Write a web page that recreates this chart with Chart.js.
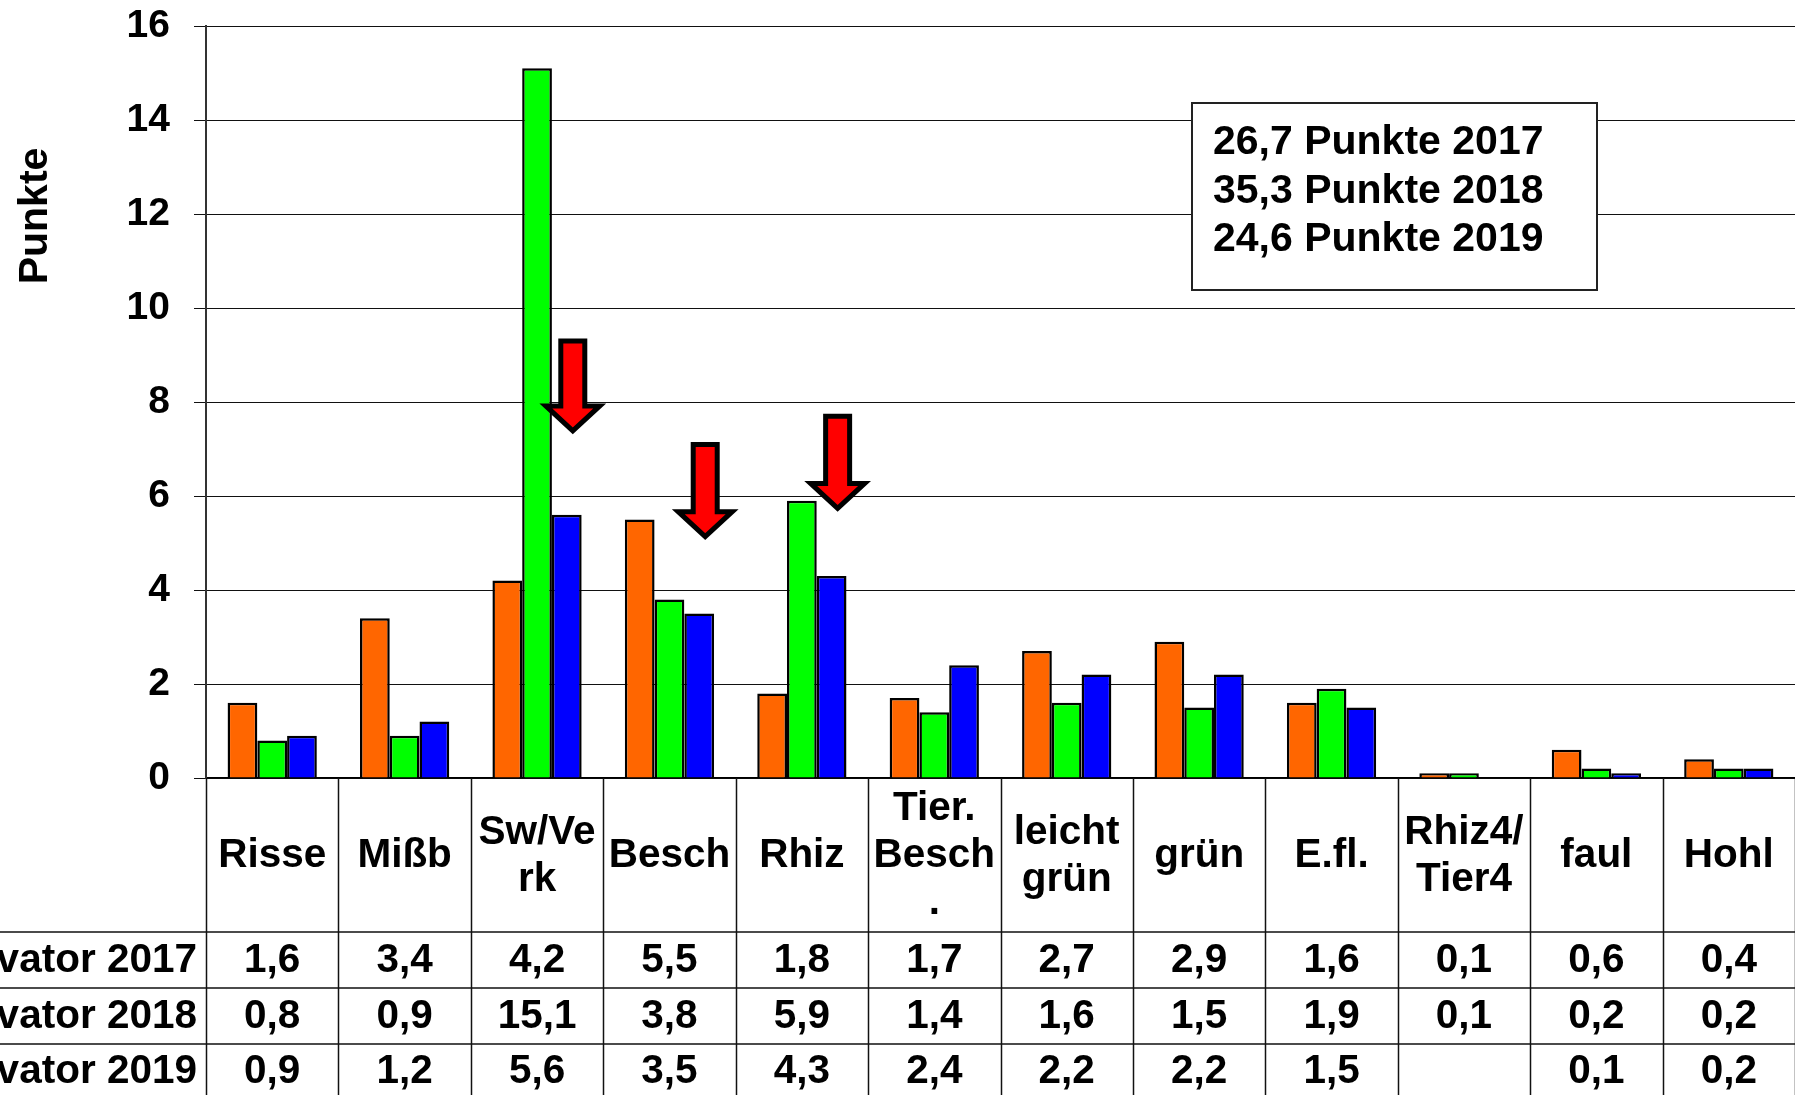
<!DOCTYPE html>
<html>
<head>
<meta charset="utf-8">
<script src="https://cdn.jsdelivr.net/npm/chart.js@4.4.1/dist/chart.umd.min.js"></script>
<style>
  body { margin: 0; background: #fff; }
  #wrap { width: 1795px; height: 1095px; }
</style>
</head>
<body>
<div id="wrap"><canvas id="myChart" width="1795" height="1095"></canvas></div>
<script>
// categories (label lines as in the table header)
const categories = [['Risse'], ['Mißb'], ['Sw/Ve', 'rk'], ['Besch'], ['Rhiz'], ['Tier.', 'Besch', '.'],
    ['leicht', 'grün'], ['grün'], ['E.fl.'], ['Rhiz4/', 'Tier4'], ['faul'], ['Hohl']];
const seriesLabels = ['Kultivator 2017', 'Kultivator 2018', 'Kultivator 2019'];
const values2017 = [1.6, 3.4, 4.2, 5.5, 1.8, 1.7, 2.7, 2.9, 1.6, 0.1, 0.6, 0.4];
const values2018 = [0.8, 0.9, 15.1, 3.8, 5.9, 1.4, 1.6, 1.5, 1.9, 0.1, 0.2, 0.2];
const values2019 = [0.9, 1.2, 5.6, 3.5, 4.3, 2.4, 2.2, 2.2, 1.5, null, 0.1, 0.2];
const seriesColors = ['#ff6600', '#00ff00', '#0000ff'];
const totals = [26.7, 35.3, 24.6];
const totalYears = ['2017', '2018', '2019'];
// red arrows: category index, top and tip (in Punkte)
const arrowCats = [2, 3, 4];
const arrowTop = [9.35, 7.15, 7.75];
const arrowTip = [7.3, 5.05, 5.65];

const FONT = 'Liberation Sans, Arial, sans-serif';

function fmt(v) {
    return (v === null || v === undefined) ? '' : v.toFixed(1).replace('.', ',');
}

// draws the data table, the axis title, the totals box and the arrows
const extras = {
    id: 'extras',
    afterDraw(chart) {
        const ctx = chart.ctx;
        const x = chart.scales.x;
        const y = chart.scales.y;
        const area = chart.chartArea;
        const colW = x.width / categories.length;
        const rowTop = [932, 988, 1044];
        const H = chart.height, W = chart.width;

        ctx.save();
        // table grid
        ctx.strokeStyle = '#111';
        ctx.lineWidth = 1.5;
        ctx.beginPath();
        for (let i = 0; i <= categories.length; i++) {
            const bx = Math.round(area.left + i * colW) + 0.5;
            ctx.moveTo(bx, area.bottom);
            ctx.lineTo(bx, H);
        }
        rowTop.forEach(function (ry) {
            ctx.moveTo(0, ry);
            ctx.lineTo(W, ry);
        });
        ctx.stroke();

        // category labels
        ctx.fillStyle = '#000';
        ctx.font = 'bold 40.5px ' + FONT;
        ctx.textAlign = 'center';
        ctx.textBaseline = 'alphabetic';
        categories.forEach(function (lines, i) {
            const cx = x.getPixelForValue(i);
            lines.forEach(function (line, j) {
                ctx.fillText(line, cx, 867 + (j - (lines.length - 1) / 2) * 47);
            });
        });

        // values + row labels
        const rows = [values2017, values2018, values2019];
        const baselines = [972, 1028, 1083];
        rows.forEach(function (vals, r) {
            ctx.textAlign = 'right';
            ctx.fillText(seriesLabels[r], 197, baselines[r]);
            ctx.textAlign = 'center';
            vals.forEach(function (v, i) {
                ctx.fillText(fmt(v), x.getPixelForValue(i), baselines[r]);
            });
        });

        // axis title
        ctx.save();
        ctx.font = 'bold 41px ' + FONT;
        ctx.translate(47, 216);
        ctx.rotate(-Math.PI / 2);
        ctx.textAlign = 'center';
        ctx.fillText('Punkte', 0, 0);
        ctx.restore();

        // totals box
        ctx.fillStyle = '#fff';
        ctx.fillRect(1192, 103, 405, 187);
        ctx.strokeStyle = '#222';
        ctx.lineWidth = 2;
        ctx.strokeRect(1192, 103, 405, 187);
        ctx.fillStyle = '#000';
        ctx.font = 'bold 41px ' + FONT;
        ctx.textAlign = 'left';
        totals.forEach(function (t, i) {
            ctx.fillText(fmt(t) + ' Punkte ' + totalYears[i], 1213, 154 + i * 48.5);
        });

        // arrows
        arrowCats.forEach(function (c, i) {
            const ax = x.getPixelForValue(c) + colW * 0.27;
            const top = y.getPixelForValue(arrowTop[i]) + 2.5;
            const tip = y.getPixelForValue(arrowTip[i]) - 4;
            const head = tip + 4 - 29;
            ctx.beginPath();
            ctx.moveTo(ax - 12, top);
            ctx.lineTo(ax + 12, top);
            ctx.lineTo(ax + 12, head);
            ctx.lineTo(ax + 27, head);
            ctx.lineTo(ax, tip);
            ctx.lineTo(ax - 27, head);
            ctx.lineTo(ax - 12, head);
            ctx.closePath();
            ctx.fillStyle = '#ff0000';
            ctx.fill();
            ctx.lineWidth = 5;
            ctx.lineJoin = 'miter';
            ctx.strokeStyle = '#000';
            ctx.stroke();
        });
        ctx.restore();
    }
};

const ctx = document.getElementById('myChart');
new Chart(ctx, {
    type: 'bar',
    data: {
        labels: categories.map(function (l) { return l.join(' '); }),
        datasets: [values2017, values2018, values2019].map(function (vals, i) {
            return {
                label: seriesLabels[i],
                data: vals,
                backgroundColor: seriesColors[i],
                borderColor: '#000',
                borderWidth: 2.5,
                categoryPercentage: 0.674,
                barPercentage: 1
            };
        })
    },
    options: {
        responsive: false,
        animation: false,
        layout: { padding: { top: 26, right: 0, bottom: 0, left: 0 } },
        plugins: {
            legend: { display: false },
            tooltip: { enabled: false }
        },
        scales: {
            x: {
                ticks: { display: false },
                grid: { display: false },
                border: { display: true, color: '#000', width: 1.5 },
                afterFit: function (scale) { scale.height = 317; }
            },
            y: {
                min: 0,
                max: 16,
                ticks: {
                    stepSize: 2,
                    padding: 24,
                    color: '#000',
                    font: { family: FONT, size: 39, weight: 'bold' }
                },
                grid: { color: '#111', lineWidth: 1, tickLength: 12 },
                border: { display: true, color: '#333', width: 2 },
                afterFit: function (scale) {
                    scale.width = 206;
                    scale.paddingTop = 0;
                    scale.paddingBottom = 0;
                }
            }
        }
    },
    plugins: [extras]
});
</script>
</body>
</html>
